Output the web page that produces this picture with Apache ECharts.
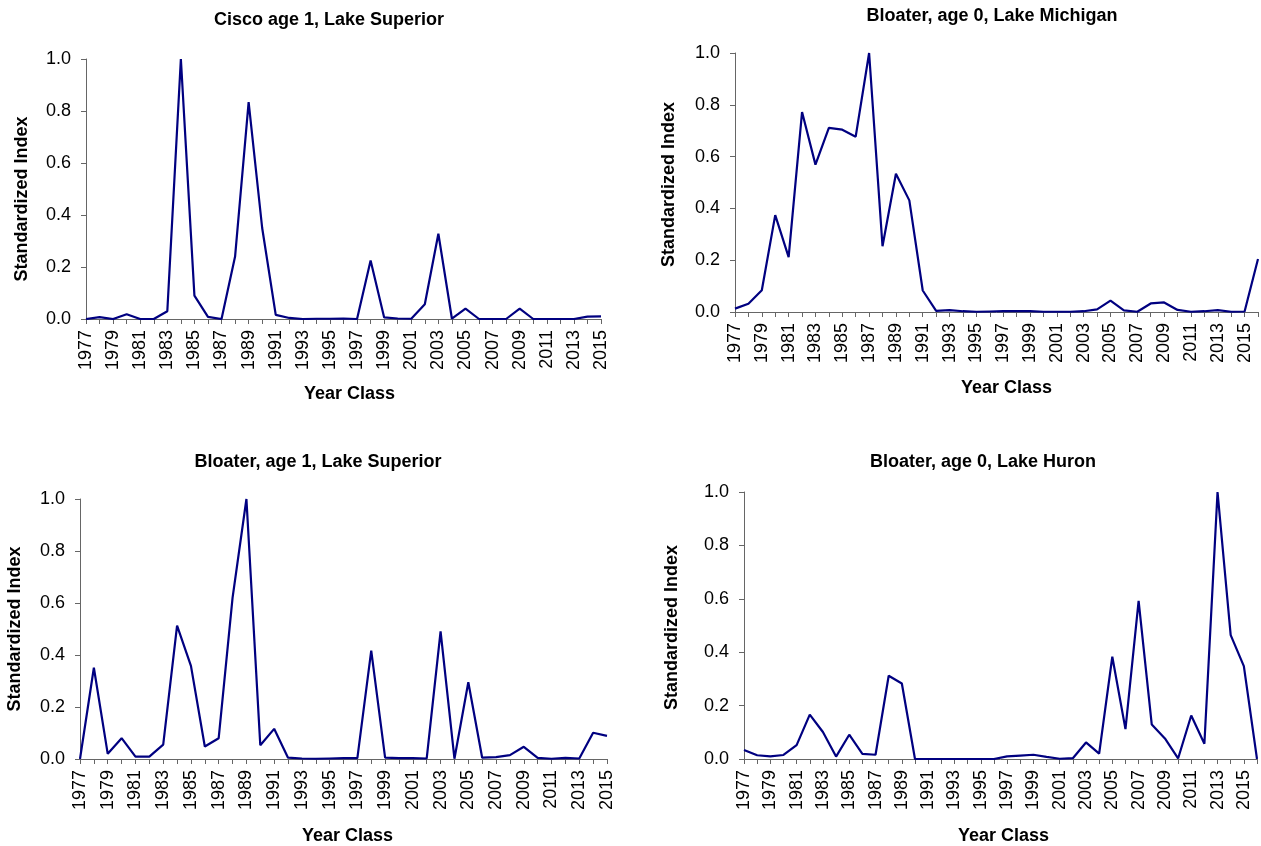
<!DOCTYPE html>
<html>
<head>
<meta charset="utf-8">
<title>Standardized year-class indices</title>
<script src="https://cdn.jsdelivr.net/npm/echarts@6/dist/echarts.min.js"></script>
<style>
  html, body { margin: 0; padding: 0; background: #ffffff; }
  #chart { width: 1261px; height: 846px; }
</style>
</head>
<body>
<div id="chart"></div>
<script>
// Year classes
const years1977to2015 = ['1977','1978','1979','1980','1981','1982','1983','1984','1985','1986',
  '1987','1988','1989','1990','1991','1992','1993','1994','1995','1996',
  '1997','1998','1999','2000','2001','2002','2003','2004','2005','2006',
  '2007','2008','2009','2010','2011','2012','2013','2014','2015'];
const years1977to2016 = years1977to2015.concat(['2016']);

// Standardized indices (each series scaled to its maximum)
const ciscoAge1Superior = [
  0.000, 0.007, 0.000, 0.018, 0.000, 0.000, 0.030, 1.000, 0.090, 0.008,
  0.000, 0.240, 0.834, 0.350, 0.016, 0.004, 0.000, 0.001, 0.001, 0.002,
  0.000, 0.225, 0.006, 0.002, 0.001, 0.057, 0.328, 0.001, 0.040, 0.000,
  0.000, 0.000, 0.040, 0.000, 0.000, 0.000, 0.000, 0.009, 0.010];

const bloaterAge0Michigan = [
  0.013, 0.032, 0.084, 0.374, 0.212, 0.772, 0.569, 0.711, 0.704, 0.677,
  1.000, 0.254, 0.534, 0.431, 0.083, 0.004, 0.007, 0.003, 0.001, 0.002,
  0.003, 0.003, 0.003, 0.001, 0.001, 0.001, 0.003, 0.010, 0.044, 0.006,
  0.001, 0.033, 0.037, 0.008, 0.001, 0.003, 0.007, 0.001, 0.002, 0.205];

const bloaterAge1Superior = [
  0.000, 0.351, 0.020, 0.080, 0.009, 0.009, 0.055, 0.513, 0.358, 0.048,
  0.080, 0.620, 1.000, 0.053, 0.116, 0.005, 0.002, 0.001, 0.002, 0.003,
  0.003, 0.417, 0.005, 0.003, 0.003, 0.002, 0.491, 0.001, 0.295, 0.005,
  0.007, 0.015, 0.047, 0.004, 0.001, 0.004, 0.002, 0.101, 0.089];

const bloaterAge0Huron = [
  0.034, 0.014, 0.010, 0.015, 0.052, 0.166, 0.101, 0.009, 0.091, 0.019,
  0.016, 0.312, 0.283, 0.000, 0.000, 0.000, 0.000, 0.000, 0.000, 0.000,
  0.010, 0.013, 0.016, 0.008, 0.001, 0.003, 0.062, 0.020, 0.383, 0.112,
  0.592, 0.129, 0.077, 0.002, 0.163, 0.057, 1.000, 0.464, 0.348, 0.000];

const panelTitles = [
  'Cisco age 1, Lake Superior',
  'Bloater, age 0, Lake Michigan',
  'Bloater, age 1, Lake Superior',
  'Bloater, age 0, Lake Huron'
];
const xAxisTitle = 'Year Class';
const yAxisTitle = 'Standardized Index';
const yTicks = [0, 0.2, 0.4, 0.6, 0.8, 1.0];

// Panel layout: plot rectangles, title anchors, axis-name gaps and nudges
const panels = [
  { cats: years1977to2015, data: ciscoAge1Superior,
    grid: { left: 86, top: 59, width: 515, height: 260 },
    title: { x: 329, y: 11 }, yGap: 55, xGap: 66, xShift: 6, yShift: 10 },
  { cats: years1977to2016, data: bloaterAge0Michigan,
    grid: { left: 735, top: 53, width: 523, height: 259 },
    title: { x: 992, y: 7 }, yGap: 57, xGap: 67, xShift: 10, yShift: 2 },
  { cats: years1977to2015, data: bloaterAge1Superior,
    grid: { left: 80, top: 499, width: 527, height: 262 },
    title: { x: 318, y: 453 }, yGap: 56, xGap: 68, xShift: 4, yShift: 0 },
  { cats: years1977to2016, data: bloaterAge0Huron,
    grid: { left: 744, top: 492, width: 513, height: 267 },
    title: { x: 983, y: 453 }, yGap: 63, xGap: 68, xShift: 3, yShift: 2 }
];

const FONT = '"Liberation Sans", Arial, Helvetica, sans-serif';
const axisColor = '#666666';

const nameStyle = (padding) => ({
  fontFamily: FONT, fontSize: 18, fontWeight: 'bold', color: '#000000', padding
});

const option = {
  animation: false,
  backgroundColor: '#ffffff',
  title: panels.map((p, i) => ({
    text: panelTitles[i],
    left: p.title.x,
    top: p.title.y,
    textAlign: 'center',
    padding: 0,
    textStyle: { fontFamily: FONT, fontSize: 18, fontWeight: 'bold', color: '#000000' }
  })),
  grid: panels.map(p => Object.assign({ containLabel: false }, p.grid)),
  xAxis: panels.map((p, i) => ({
    type: 'category',
    gridIndex: i,
    data: p.cats,
    boundaryGap: false,
    name: xAxisTitle,
    nameLocation: 'middle',
    nameGap: p.xGap,
    // left padding moves the centred name to the right by half its amount
    nameTextStyle: nameStyle([0, 0, 0, 2 * p.xShift]),
    axisLine: { show: true, lineStyle: { color: axisColor, width: 1 } },
    axisTick: { show: true, interval: 0, length: 5, inside: false, lineStyle: { color: axisColor } },
    axisLabel: {
      interval: 1, rotate: 90, margin: 11,
      fontFamily: FONT, fontSize: 18, color: '#000000'
    },
    splitLine: { show: false }
  })),
  yAxis: panels.map((p, i) => ({
    type: 'value',
    gridIndex: i,
    min: yTicks[0],
    max: yTicks[yTicks.length - 1],
    interval: 0.2,
    name: yAxisTitle,
    nameLocation: 'middle',
    nameRotate: 90,
    nameGap: p.yGap,
    // right padding (top of the rotated text) moves the name downwards
    nameTextStyle: nameStyle([0, 2 * p.yShift, 0, 0]),
    axisLine: { show: true, lineStyle: { color: axisColor, width: 1 } },
    axisTick: { show: true, length: 5, inside: false, lineStyle: { color: axisColor } },
    axisLabel: {
      margin: 15,
      fontFamily: FONT, fontSize: 18, color: '#000000',
      formatter: v => v.toFixed(1)
    },
    splitLine: { show: false }
  })),
  series: panels.map((p, i) => ({
    type: 'line',
    name: panelTitles[i],
    xAxisIndex: i,
    yAxisIndex: i,
    data: p.data,
    showSymbol: false,
    symbol: 'none',
    lineStyle: { color: '#000080', width: 2.2 },
    itemStyle: { color: '#000080' }
  }))
};

const chart = echarts.init(document.getElementById('chart'), null, { renderer: 'canvas' });
chart.setOption(option);
</script>
</body>
</html>
